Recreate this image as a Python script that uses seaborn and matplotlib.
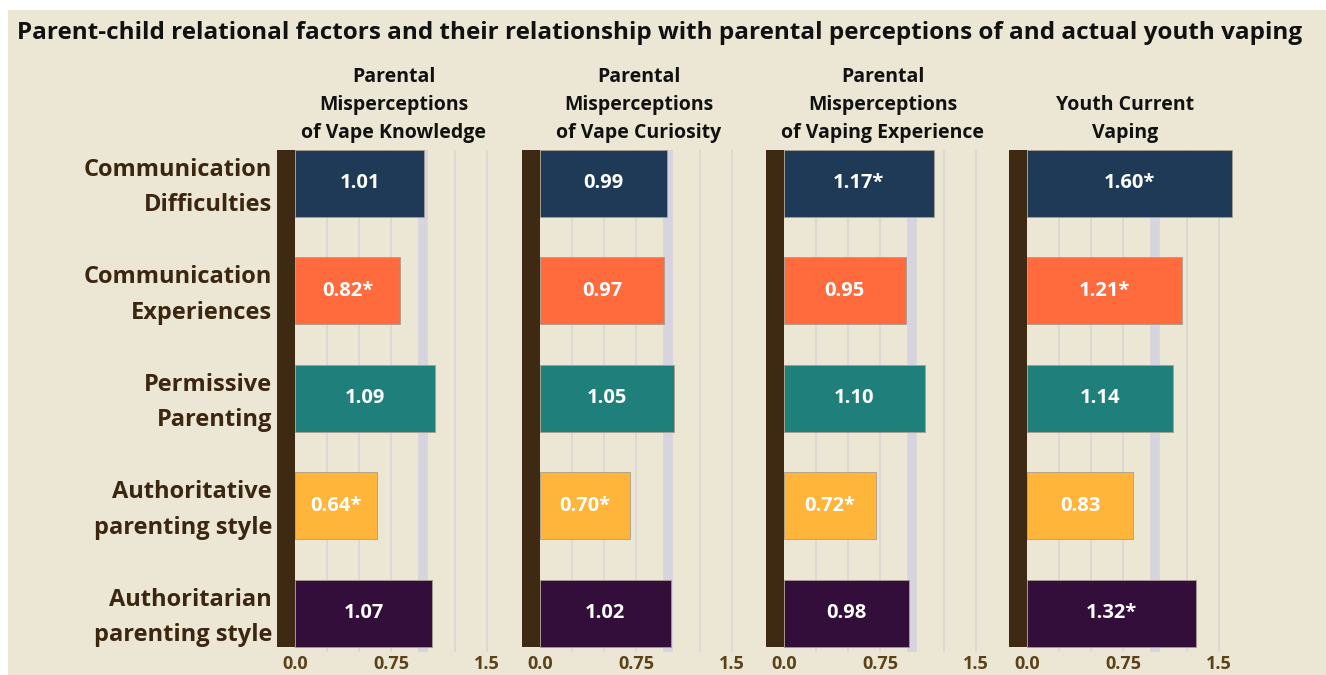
import matplotlib.pyplot as plt
import seaborn as sns
import pandas as pd
from matplotlib.patches import Rectangle

factors = ['Communication\nDifficulties', 'Communication\nExperiences', 'Permissive\nParenting',
           'Authoritative\nparenting style', 'Authoritarian\nparenting style']
outcomes = ['Parental\nMisperceptions\nof Vape Knowledge', 'Parental\nMisperceptions\nof Vape Curiosity',
            'Parental\nMisperceptions\nof Vaping Experience', 'Youth Current\nVaping']
vape_knowledge = [1.01, 0.82, 1.09, 0.64, 1.07]
vape_curiosity = [0.99, 0.97, 1.05, 0.70, 1.02]
vaping_experience = [1.17, 0.95, 1.10, 0.72, 0.98]
youth_vaping = [1.60, 1.21, 1.14, 0.83, 1.32]
sig_knowledge = [False, True, False, True, False]
sig_curiosity = [False, False, False, True, False]
sig_experience = [True, False, False, True, False]
sig_youth = [True, True, False, False, True]
tick_vals = [0.0, 0.75, 1.5]
tick_labels = ['0.0', '0.75', '1.5']

colors = ['#1e3a56', '#ff6b3d', '#1f807b', '#ffb43a', '#330e3b']
bg = '#ece6d5'
brown = '#3e2a12'

series = [vape_knowledge, vape_curiosity, vaping_experience, youth_vaping]
sigs = [sig_knowledge, sig_curiosity, sig_experience, sig_youth]

sns.set_style('white')
plt.rcParams['font.family'] = ['Open Sans', 'DejaVu Sans']

W, H = 1326, 675
fig = plt.figure(figsize=(W / 100, H / 100), dpi=100, facecolor='white')
fig.patches.append(Rectangle((8 / W, 0), 1, (H - 10) / H, transform=fig.transFigure,
                             facecolor=bg, edgecolor='none', zorder=-10))

fig.text(17 / W, (H - 33) / H,
         'Parent-child relational factors and their relationship with parental perceptions of and actual youth vaping',
         ha='left', va='center', fontsize=17.5, fontweight='bold', color='#111111')

x0_px = [295, 540, 784, 1027]
scale = 128.0
xmin, xmax = -0.14, 1.68
top_px, bot_px = 150, 652
bar_h = 0.62

for k, (vals, sg) in enumerate(zip(series, sigs)):
    left = x0_px[k] + xmin * scale
    width = (xmax - xmin) * scale
    ax = fig.add_axes([left / W, (H - bot_px) / H, width / W, (bot_px - top_px) / H])
    ax.set_facecolor('none')
    df = pd.DataFrame({'factor': factors, 'value': vals})
    for g in [0.25, 0.5, 0.75, 1.25, 1.5]:
        ax.axvline(g, ymin=0, ymax=1, color='#dcd8d2', lw=1.4, zorder=0)
    ax.axvline(1.0, color='#d6d4de', lw=7, zorder=0)
    sns.barplot(data=df, x='value', y='factor', hue='factor', palette=colors, legend=False,
                orient='h', width=bar_h, saturation=1, ax=ax, edgecolor='#a89e8e',
                linewidth=0.6, zorder=2)
    ax.fill_betweenx([-bar_h / 2, len(factors) - 1 + bar_h / 2], xmin, 0, color=brown, zorder=3, lw=0)
    ax.set_xlim(xmin, xmax)
    ax.set_ylim(len(factors) - 1 + 0.36, -bar_h / 2)
    for i, (v, s) in enumerate(zip(vals, sg)):
        ax.text(v / 2, i, f'{v:.2f}' + ('*' if s else ''), ha='center', va='center',
                color='white', fontsize=14.5, fontweight='bold', zorder=4)
    ax.set_xticks(tick_vals)
    ax.set_xticklabels(tick_labels, fontsize=13, fontweight='bold', color='#5b4217')
    ax.tick_params(axis='x', length=0, pad=2)
    ax.set_yticks([])
    ax.set_xlabel('')
    ax.set_ylabel('')
    for sp in ax.spines.values():
        sp.set_visible(False)
    fig.text((left + width / 2) / W, (H - 143) / H, outcomes[k], ha='center', va='bottom',
             fontsize=14, fontweight='bold', color='#111111', linespacing=1.55)
    if k == 0:
        for i, f in enumerate(factors):
            ax.text(-5 / width, i + 0.04, f, transform=ax.get_yaxis_transform(), ha='right',
                    va='center', multialignment='right', fontsize=17, fontweight='bold',
                    color='#3b2610', linespacing=1.65)

fig.savefig('out.png', dpi=100, facecolor='white')
